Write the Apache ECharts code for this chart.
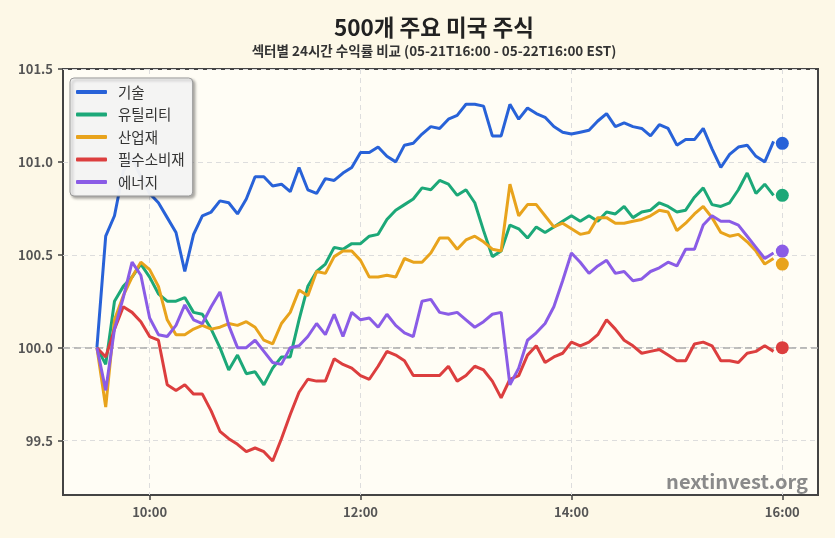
<!DOCTYPE html>
<html>
<head>
<meta charset="utf-8">
<script src="https://cdn.jsdelivr.net/npm/echarts@6/dist/echarts.min.js"></script>
<style>
  html, body { margin: 0; padding: 0; background: #fdf8e7; }
  #chart { width: 835px; height: 538px; }
</style>
</head>
<body>
<div id="chart"></div>
<script>
// 5분 간격 (09:30 ~ 15:55), 값은 시작 시점 = 100 기준
const sectors = ['기술', '유틸리티', '산업재', '필수소비재', '에너지'];
const colors = ['#2862d8', '#1ca878', '#e8a31c', '#dc3e3e', '#8a5ce6'];

const times = [];
for (let m = 9 * 60 + 30; m <= 15 * 60 + 55; m += 5) times.push(m);
const closeTime = 16 * 60;

const tech = [
  100.00, 100.60, 100.71, 100.95, 101.02, 100.92, 100.83, 100.78, 100.70, 100.62,
  100.41, 100.61, 100.71, 100.73, 100.79, 100.78, 100.72, 100.80, 100.92, 100.92,
  100.87, 100.88, 100.84, 100.97, 100.85, 100.83, 100.91, 100.90, 100.94, 100.97,
  101.05, 101.05, 101.08, 101.03, 101.00, 101.09, 101.10, 101.15, 101.19, 101.18,
  101.23, 101.25, 101.31, 101.31, 101.30, 101.14, 101.14, 101.31, 101.23, 101.29,
  101.26, 101.24, 101.19, 101.16, 101.15, 101.16, 101.17, 101.22, 101.26, 101.19,
  101.21, 101.19, 101.18, 101.14, 101.20, 101.18, 101.09, 101.12, 101.12, 101.18,
  101.07, 100.97, 101.04, 101.08, 101.09, 101.03, 101.00, 101.11
];
const utilities = [
  100.00, 99.91, 100.25, 100.33, 100.38, 100.45, 100.38, 100.29, 100.25, 100.25,
  100.27, 100.19, 100.18, 100.10, 100.00, 99.88, 99.96, 99.86, 99.87, 99.80,
  99.89, 99.95, 99.95, 100.15, 100.33, 100.41, 100.45, 100.54, 100.53, 100.56,
  100.56, 100.60, 100.61, 100.69, 100.74, 100.77, 100.80, 100.86, 100.85, 100.90,
  100.88, 100.82, 100.85, 100.78, 100.63, 100.49, 100.52, 100.66, 100.64, 100.59,
  100.65, 100.62, 100.65, 100.68, 100.71, 100.68, 100.71, 100.68, 100.73, 100.72,
  100.76, 100.70, 100.73, 100.74, 100.78, 100.76, 100.73, 100.74, 100.81, 100.86,
  100.77, 100.76, 100.78, 100.85, 100.94, 100.83, 100.88, 100.82
];
const industrials = [
  100.00, 99.68, 100.15, 100.28, 100.38, 100.46, 100.42, 100.33, 100.15, 100.07,
  100.07, 100.10, 100.12, 100.10, 100.11, 100.13, 100.12, 100.14, 100.11, 100.04,
  100.02, 100.13, 100.19, 100.31, 100.28, 100.41, 100.40, 100.49, 100.52, 100.52,
  100.47, 100.38, 100.38, 100.39, 100.38, 100.48, 100.46, 100.46, 100.51, 100.59,
  100.59, 100.53, 100.58, 100.60, 100.57, 100.53, 100.52, 100.88, 100.71, 100.77,
  100.77, 100.71, 100.65, 100.67, 100.64, 100.61, 100.62, 100.70, 100.70, 100.67,
  100.67, 100.68, 100.69, 100.71, 100.74, 100.73, 100.63, 100.67, 100.72, 100.76,
  100.70, 100.62, 100.60, 100.61, 100.57, 100.52, 100.45, 100.48
];
const staples = [
  100.00, 99.95, 100.10, 100.22, 100.19, 100.14, 100.06, 100.04, 99.80, 99.77,
  99.80, 99.75, 99.75, 99.66, 99.55, 99.51, 99.48, 99.44, 99.46, 99.44,
  99.39, 99.51, 99.64, 99.76, 99.83, 99.82, 99.82, 99.94, 99.91, 99.89,
  99.85, 99.83, 99.90, 99.98, 99.96, 99.93, 99.85, 99.85, 99.85, 99.85,
  99.90, 99.82, 99.85, 99.90, 99.88, 99.82, 99.73, 99.83, 99.85, 99.96,
  100.01, 99.92, 99.95, 99.97, 100.03, 100.01, 100.03, 100.07, 100.15, 100.10,
  100.04, 100.01, 99.97, 99.98, 99.99, 99.96, 99.93, 99.93, 100.02, 100.03,
  100.01, 99.93, 99.93, 99.92, 99.97, 99.98, 100.01, 99.98
];
const energy = [
  100.00, 99.77, 100.10, 100.27, 100.46, 100.39, 100.16, 100.07, 100.06, 100.12,
  100.23, 100.15, 100.13, 100.22, 100.30, 100.12, 100.00, 100.00, 100.04, 99.98,
  99.92, 99.91, 100.00, 100.01, 100.06, 100.13, 100.07, 100.18, 100.06, 100.19,
  100.15, 100.16, 100.11, 100.18, 100.12, 100.08, 100.06, 100.25, 100.26, 100.19,
  100.18, 100.19, 100.15, 100.11, 100.14, 100.18, 100.19, 99.80, 99.89, 100.04,
  100.08, 100.13, 100.22, 100.36, 100.51, 100.46, 100.40, 100.44, 100.47, 100.40,
  100.41, 100.36, 100.37, 100.41, 100.43, 100.46, 100.44, 100.53, 100.53, 100.66,
  100.71, 100.68, 100.68, 100.66, 100.60, 100.54, 100.48, 100.51
];
// 16:00 종가 표시 점
const closeValues = [101.10, 100.82, 100.45, 100.00, 100.52];

const xTicks = [600, 720, 840, 960];
const yTicks = [99.5, 100.0, 100.5, 101.0, 101.5];

const font = '"Noto Sans CJK KR", "Noto Sans", sans-serif';
const seriesValues = [tech, utilities, industrials, staples, energy];

function hhmm(v) {
  const h = Math.floor(v / 60), m = Math.round(v % 60);
  return h + ':' + (m < 10 ? '0' + m : m);
}

const lineSeries = sectors.map((name, k) => ({
  name: name,
  type: 'line',
  data: times.map((t, i) => [t, seriesValues[k][i]]),
  showSymbol: false,
  symbol: 'none',
  lineStyle: { width: 3, color: colors[k] },
  itemStyle: { color: colors[k] },
  z: 3
}));

// 100 기준선
lineSeries[0].markLine = {
  silent: true,
  symbol: 'none',
  label: { show: false },
  lineStyle: { color: '#aaaaaa', type: [7, 4], width: 1.5 },
  data: [{ yAxis: 100 }],
  z: 1
};

const closeSeries = {
  name: 'close',
  type: 'scatter',
  symbolSize: 13,
  z: 4,
  data: closeValues.map((v, k) => ({ value: [closeTime, v], itemStyle: { color: colors[k], opacity: 1 } }))
};

const chart = echarts.init(document.getElementById('chart'));
chart.setOption({
  backgroundColor: '#fdf8e7',
  textStyle: { fontFamily: font },
  legend: {
    data: sectors,
    orient: 'vertical',
    left: 70,
    top: 78,
    padding: [6, 8, 6, 6],
    itemGap: 6.5,
    itemWidth: 31,
    itemHeight: 4,
    icon: 'roundRect',
    backgroundColor: 'rgba(248,248,248,0.95)',
    borderColor: '#9a9a9a',
    borderWidth: 1,
    borderRadius: 4,
    shadowBlur: 3,
    shadowColor: 'rgba(0,0,0,0.35)',
    shadowOffsetX: 2,
    shadowOffsetY: 2,
    textStyle: { fontFamily: font, fontSize: 14.5, color: '#333', lineHeight: 16, padding: [0, 0, 0, 6] }
  },
  grid: {
    left: 63, top: 69, right: 17, bottom: 43,
    show: true,
    backgroundColor: '#fffdf5',
    borderColor: '#444',
    borderWidth: 2
  },
  xAxis: {
    type: 'value',
    min: 550.7,
    max: 980.3,
    axisLine: { show: false },
    axisTick: { show: true, length: 5, customValues: xTicks, lineStyle: { color: '#444', width: 1.5 } },
    axisLabel: {
      customValues: xTicks,
      formatter: hhmm,
      margin: 11,
      fontFamily: font, fontSize: 13, fontWeight: 'bold', color: '#555'
    },
    splitLine: { show: true, lineStyle: { color: '#dddddd', type: [5, 4], width: 1 } }
  },
  yAxis: {
    type: 'value',
    min: 99.207,
    max: 101.5,
    axisLine: { show: false },
    axisTick: { show: true, length: 5, customValues: yTicks, lineStyle: { color: '#444', width: 1.5 } },
    axisLabel: {
      customValues: yTicks,
      formatter: v => v.toFixed(1),
      margin: 10,
      fontFamily: font, fontSize: 13, fontWeight: 'bold', color: '#555'
    },
    splitLine: { show: true, lineStyle: { color: '#dddddd', type: [5, 4], width: 1 } }
  },
  graphic: [
    {
      type: 'text', x: 434, y: 27, z: 10,
      style: {
        text: '500개 주요 미국 주식', font: 'bold 22.5px ' + font, fill: '#222',
        align: 'center', verticalAlign: 'middle'
      }
    },
    {
      type: 'text', x: 434, y: 51, z: 10,
      style: {
        text: '섹터별 24시간 수익률 비교 (05-21T16:00 - 05-22T16:00 EST)', font: 'bold 13.5px ' + font, fill: '#333',
        align: 'center', verticalAlign: 'middle'
      }
    },
    {
      type: 'text', right: 27, top: 471, z: 10,
      style: { text: 'nextinvest.org', font: 'bold 20px ' + font, fill: '#8a8a8a' }
    }
  ],
  series: lineSeries.concat([closeSeries])
});
</script>
</body>
</html>
